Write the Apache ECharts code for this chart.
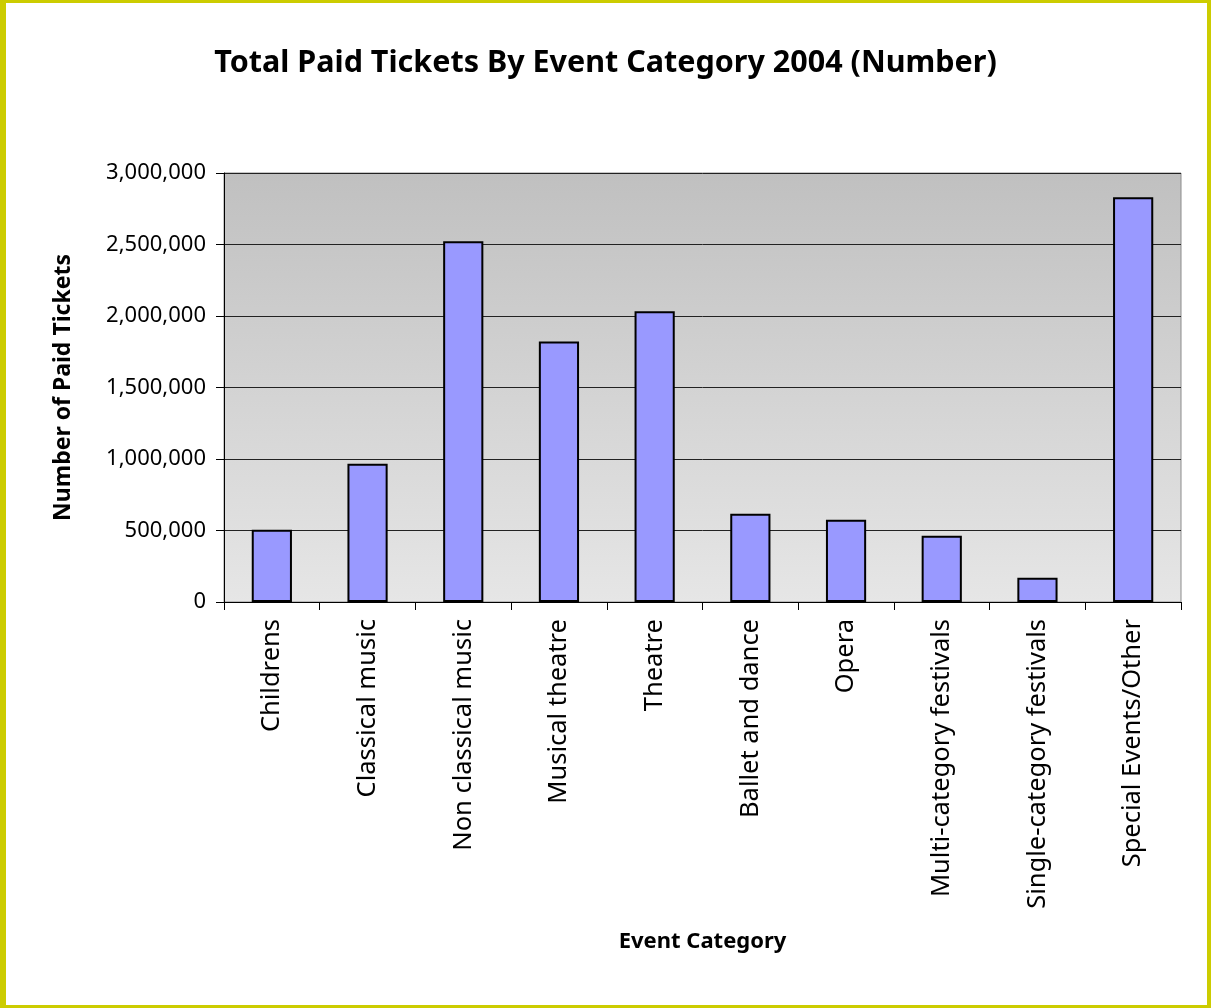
<!DOCTYPE html>
<html>
<head>
<meta charset="utf-8">
<script src="https://cdn.jsdelivr.net/npm/echarts@6/dist/echarts.min.js"></script>
<style>
html,body{margin:0;padding:0;background:#fff;}
#wrap{position:relative;width:1211px;height:1008px;}
#chart{position:absolute;left:0;top:0;width:1211px;height:1008px;}
#frame{position:absolute;left:0;top:0;width:1211px;height:1008px;box-sizing:border-box;
  border-style:solid;border-color:#cccc00;border-width:3px 4px 3px 6px;pointer-events:none;}
</style>
</head>
<body>
<div id="wrap"><div id="chart"></div><div id="frame"></div></div>
<script>
const titleText = 'Total Paid Tickets By Event Category 2004 (Number)';
const categories = ['Childrens','Classical music','Non classical music','Musical theatre','Theatre',
  'Ballet and dance','Opera','Multi-category festivals','Single-category festivals','Special Events/Other'];
const paidTickets = [505000, 967000, 2523000, 1822000, 2033000, 617000, 575000, 463000, 170000, 2830000];
const yTicks = [0, 500000, 1000000, 1500000, 2000000, 2500000, 3000000];
const xAxisName = 'Event Category';
const yAxisName = 'Number of Paid Tickets';

const FONT = 'Noto Sans';
const chart = echarts.init(document.getElementById('chart'), null, {renderer:'canvas'});
chart.setOption({
  animation:false,
  backgroundColor:'#ffffff',
  title:{
    text:titleText, left:'center', top:43,
    textStyle:{fontFamily:FONT, fontWeight:'bold', fontSize:30.5, color:'#000'}
  },
  grid:{
    left:224, right:30, top:173, bottom:406,
    show:true, borderColor:'#8c8c8c', borderWidth:1,
    backgroundColor:new echarts.graphic.LinearGradient(0,0,0,1,[
      {offset:0,color:'#c0c0c0'},{offset:1,color:'#e6e6e6'}])
  },
  xAxis:{
    type:'category', data:categories,
    name:xAxisName, nameLocation:'middle', nameGap:329,
    nameTextStyle:{fontFamily:FONT, fontWeight:'bold', fontSize:22, color:'#000'},
    axisLine:{lineStyle:{color:'#000', width:1}},
    axisTick:{show:true, length:8, lineStyle:{color:'#000'}},
    axisLabel:{rotate:90, margin:17, fontFamily:FONT, fontSize:25.5, color:'#000', interval:0},
    splitLine:{show:false}
  },
  yAxis:{
    type:'value', min:yTicks[0], max:yTicks[yTicks.length-1], interval:yTicks[1]-yTicks[0],
    name:yAxisName, nameLocation:'middle', nameGap:149, nameRotate:90,
    nameTextStyle:{fontFamily:FONT, fontWeight:'bold', fontSize:23, color:'#000'},
    axisLine:{show:true, lineStyle:{color:'#000', width:1}},
    axisTick:{show:true, length:8, lineStyle:{color:'#000'}},
    axisLabel:{margin:18, fontFamily:FONT, fontSize:22, color:'#000',
      formatter:v=>v.toLocaleString('en-US')},
    splitLine:{show:true, lineStyle:{color:'#222', width:1}}
  },
  series:[{
    type:'bar', data:paidTickets, barWidth:'42%',
    itemStyle:{color:'#9999ff', borderColor:'#000', borderWidth:2}
  }]
});
</script>
</body>
</html>
